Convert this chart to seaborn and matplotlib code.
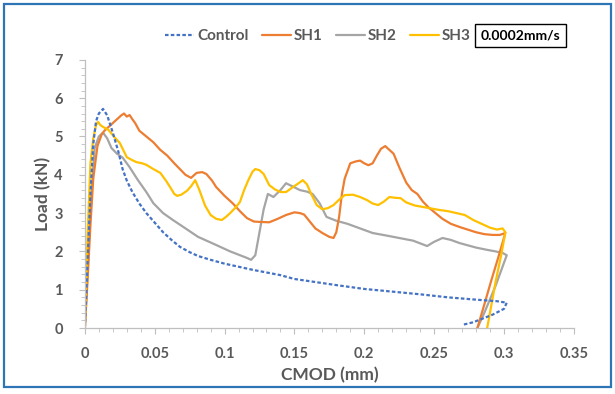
import numpy as np
import pandas as pd
import matplotlib
matplotlib.use("Agg")
import matplotlib.pyplot as plt
import seaborn as sns
from matplotlib.patches import Rectangle
from matplotlib.ticker import MultipleLocator
from matplotlib.lines import Line2D

# ---------------- data ----------------
ctrl_x = [0, 0.002, 0.004, 0.006, 0.008, 0.010, 0.013, 0.016, 0.020, 0.024, 0.027, 0.030, 0.034, 0.039,
          0.044, 0.050, 0.056, 0.062, 0.068, 0.075, 0.081, 0.090, 0.100, 0.110, 0.120, 0.130, 0.140,
          0.150, 0.165, 0.180, 0.200, 0.220, 0.240, 0.260, 0.280, 0.295, 0.302, 0.300, 0.292, 0.285,
          0.278, 0.270]
ctrl_y = [0, 1.8, 3.5, 4.8, 5.4, 5.6, 5.72, 5.55, 5.1, 4.6, 4.15, 3.85, 3.55, 3.25,
          3.0, 2.75, 2.5, 2.3, 2.12, 1.98, 1.88, 1.78, 1.68, 1.6, 1.52, 1.45, 1.38,
          1.28, 1.2, 1.12, 1.02, 0.95, 0.88, 0.8, 0.74, 0.7, 0.66, 0.5, 0.35, 0.25,
          0.15, 0.08]

sh1_x = [0, 0.002, 0.004, 0.006, 0.009, 0.012, 0.014, 0.017, 0.020, 0.023, 0.026, 0.028, 0.030, 0.032,
         0.034, 0.036, 0.039, 0.044, 0.049, 0.054, 0.059, 0.064, 0.068, 0.072, 0.076, 0.080, 0.084,
         0.087, 0.091, 0.094, 0.100, 0.106, 0.111, 0.116, 0.121, 0.125, 0.132, 0.138, 0.144, 0.150,
         0.154, 0.157, 0.161, 0.165, 0.170, 0.175, 0.178, 0.180, 0.182, 0.184, 0.186, 0.190, 0.194,
         0.197, 0.200, 0.203, 0.206, 0.209, 0.212, 0.215, 0.218, 0.221, 0.225, 0.230, 0.234, 0.238,
         0.242, 0.246, 0.251, 0.256, 0.262, 0.268, 0.274, 0.280, 0.286, 0.292, 0.297, 0.301, 0.296,
         0.291, 0.286, 0.281]
sh1_y = [0, 1.3, 2.7, 3.9, 4.75, 5.05, 5.15, 5.25, 5.35, 5.45, 5.55, 5.6, 5.52, 5.56,
         5.45, 5.35, 5.15, 5.0, 4.85, 4.65, 4.5, 4.3, 4.15, 4.0, 3.92, 4.05, 4.07,
         4.02, 3.85, 3.68, 3.45, 3.25, 3.05, 2.87, 2.78, 2.77, 2.76, 2.85, 2.95, 3.02,
         3.0, 2.96, 2.78, 2.6, 2.48, 2.38, 2.35, 2.5, 2.9, 3.5, 3.9, 4.3, 4.35,
         4.37, 4.3, 4.25, 4.3, 4.5, 4.68, 4.75, 4.65, 4.55, 4.2, 3.8, 3.6, 3.5,
         3.3, 3.15, 3.0, 2.85, 2.72, 2.64, 2.57, 2.5, 2.45, 2.43, 2.43, 2.48, 1.85,
         1.25, 0.62, 0]

sh2_x = [0, 0.002, 0.004, 0.007, 0.010, 0.013, 0.016, 0.019, 0.023, 0.027, 0.032, 0.038, 0.044, 0.049,
         0.056, 0.063, 0.070, 0.081, 0.092, 0.104, 0.116, 0.119, 0.122, 0.125, 0.128, 0.131, 0.135,
         0.140, 0.144, 0.149, 0.154, 0.159, 0.163, 0.168, 0.173, 0.180, 0.188, 0.197, 0.206, 0.215,
         0.225, 0.235, 0.245, 0.250, 0.256, 0.262, 0.268, 0.273, 0.280, 0.288, 0.294, 0.299, 0.302,
         0.298, 0.294, 0.290, 0.286, 0.281]
sh2_y = [0, 1.5, 3.2, 4.7, 5.0, 5.1, 4.95, 4.7, 4.55, 4.45, 4.2, 3.86, 3.55, 3.26,
         3.0, 2.82, 2.65, 2.38, 2.2, 2.0, 1.83, 1.78, 1.9, 2.5, 3.1, 3.5, 3.42,
         3.6, 3.78, 3.69, 3.6, 3.56, 3.5, 3.26, 2.9, 2.8, 2.72, 2.6, 2.48, 2.42,
         2.35, 2.28, 2.14, 2.25, 2.35, 2.3, 2.22, 2.17, 2.1, 2.04, 2.0, 1.96, 1.9,
         1.5, 1.1, 0.75, 0.4, 0]

sh3_x = [0, 0.002, 0.004, 0.006, 0.008, 0.0095, 0.011, 0.013, 0.017, 0.021, 0.025, 0.030, 0.034, 0.037,
         0.041, 0.044, 0.049, 0.054, 0.058, 0.061, 0.064, 0.066, 0.069, 0.073, 0.076, 0.079, 0.082,
         0.086, 0.090, 0.094, 0.098, 0.101, 0.104, 0.108, 0.111, 0.114, 0.117, 0.120, 0.122, 0.125,
         0.128, 0.132, 0.136, 0.140, 0.144, 0.149, 0.153, 0.156, 0.159, 0.162, 0.166, 0.170, 0.174,
         0.178, 0.182, 0.186, 0.192, 0.197, 0.202, 0.206, 0.210, 0.214, 0.218, 0.222, 0.226, 0.230,
         0.236, 0.242, 0.248, 0.254, 0.260, 0.266, 0.272, 0.278, 0.284, 0.290, 0.295, 0.299, 0.301,
         0.298, 0.294, 0.291, 0.288]
sh3_y = [0, 2.5, 4.3, 4.95, 5.3, 5.38, 5.3, 5.25, 5.17, 4.99, 4.83, 4.46, 4.38, 4.33,
         4.3, 4.26, 4.15, 4.05, 3.85, 3.68, 3.5, 3.45, 3.48, 3.58, 3.7, 3.86, 3.6,
         3.2, 2.95, 2.85, 2.82, 2.9, 3.0, 3.15, 3.29, 3.6, 3.86, 4.08, 4.15, 4.12,
         4.02, 3.73, 3.62, 3.55, 3.55, 3.68, 3.78, 3.86, 3.75, 3.5, 3.21, 3.1, 3.13,
         3.21, 3.35, 3.47, 3.48, 3.42, 3.34, 3.25, 3.21, 3.3, 3.42, 3.4, 3.39, 3.28,
         3.2, 3.16, 3.12, 3.08, 3.05, 3.0, 2.95, 2.82, 2.72, 2.62, 2.57, 2.6, 2.5,
         1.9, 1.2, 0.6, 0]

series_names = ["Control", "SH1", "SH2", "SH3"]
series_x = [ctrl_x, sh1_x, sh2_x, sh3_x]
series_y = [ctrl_y, sh1_y, sh2_y, sh3_y]
colors = {"Control": "#4472C4", "SH1": "#ED7D31", "SH2": "#A5A5A5", "SH3": "#FFC000"}

x_ticks = [0, 0.05, 0.1, 0.15, 0.2, 0.25, 0.3, 0.35]
x_tick_labels = ["0", "0.05", "0.1", "0.15", "0.2", "0.25", "0.3", "0.35"]
y_ticks = [0, 1, 2, 3, 4, 5, 6, 7]
rate_label = "0.0002mm/s"

# ---------------- plot ----------------
sns.set_theme(style="white")
plt.rcParams["font.family"] = ["Lato", "DejaVu Sans"]
txt = "#595959"

fig = plt.figure(figsize=(6.15, 3.94), dpi=100)
ax = fig.add_axes([0.138, 0.1675, 0.795, 0.6805])

frames = []
for name, xs, ys in zip(series_names, series_x, series_y):
    frames.append(pd.DataFrame({"CMOD": xs, "Load": ys, "Series": name}))
df = pd.concat(frames, ignore_index=True)

dash = (0, (1.6, 1.0))
for name in ["SH2", "SH1", "SH3", "Control"]:
    sub = df[df["Series"] == name]
    sns.lineplot(data=sub, x="CMOD", y="Load", sort=False, estimator=None,
                 color=colors[name], lw=1.6, ax=ax, legend=False,
                 linestyle=dash if name == "Control" else "-")

ax.set_xlim(0, 0.35)
ax.set_ylim(0, 7)
ax.set_xticks(x_ticks)
ax.set_xticklabels(x_tick_labels)
ax.set_yticks(y_ticks)
ax.xaxis.set_minor_locator(MultipleLocator(0.01))
ax.yaxis.set_minor_locator(MultipleLocator(0.2))
for s in ["top", "right"]:
    ax.spines[s].set_visible(False)
for s in ["left", "bottom"]:
    ax.spines[s].set_color("#BFBFBF")
    ax.spines[s].set_linewidth(0.9)
ax.tick_params(axis="both", which="major", direction="out", length=4, width=0.8,
               color="#BFBFBF", labelsize=10.5, labelcolor=txt)
ax.tick_params(axis="x", which="major", pad=10)
ax.tick_params(axis="y", which="major", pad=12)
ax.tick_params(axis="both", which="minor", direction="out", length=3, width=0.6,
               color="#BFBFBF")
ax.tick_params(axis="x", which="both", bottom=True)
ax.tick_params(axis="y", which="both", left=True)
for lab in ax.get_xticklabels() + ax.get_yticklabels():
    lab.set_fontweight("bold")
ax.set_xlabel("CMOD (mm)", fontsize=12.5, fontweight="bold", color=txt, labelpad=4)
ax.set_ylabel("Load (kN)", fontsize=12.5, fontweight="bold", color=txt, labelpad=2)
ax.grid(False)

handles = [Line2D([], [], color=colors[n], lw=1.6,
                  linestyle=dash if n == "Control" else "-") for n in series_names]
leg = fig.legend(handles, series_names, loc="center", bbox_to_anchor=(0.517, 0.908),
                 ncol=4, frameon=False, fontsize=11, handlelength=1.9, handletextpad=0.2,
                 columnspacing=0.85, borderpad=0.2)
for t in leg.get_texts():
    t.set_color(txt)
    t.set_fontweight("bold")

fig.text(0.846, 0.911, rate_label, ha="center", va="center", fontsize=10,
         fontweight="bold", color="black",
         bbox=dict(boxstyle="square,pad=0.4", fc="white", ec="black", lw=1.0))

fig.patches.append(Rectangle((0.007, 0.018), 0.987, 0.973, transform=fig.transFigure,
                             fill=False, ec="#2E75B6", lw=1.6))

fig.savefig("out.png", dpi=100)
